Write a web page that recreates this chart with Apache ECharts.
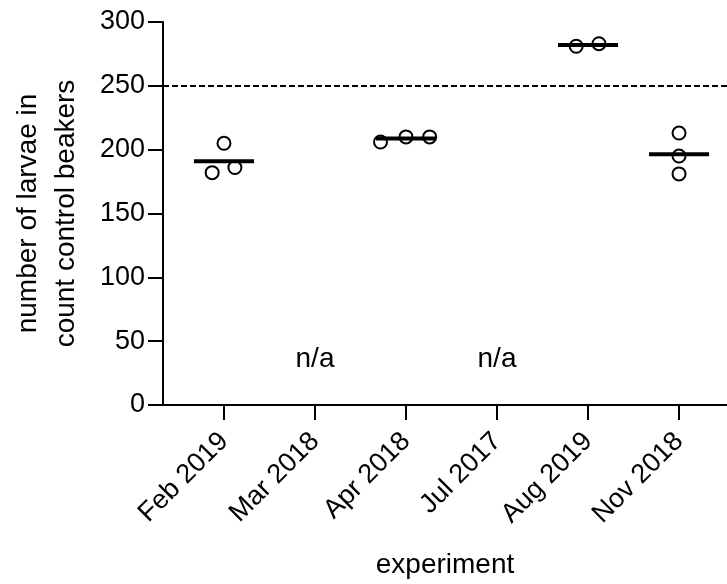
<!DOCTYPE html>
<html><head><meta charset="utf-8">
<script src="https://cdn.jsdelivr.net/npm/echarts@6/dist/echarts.min.js"></script>
<style>html,body{margin:0;padding:0;background:#fff}#c{width:727px;height:584px}</style>
</head><body><div id="c"></div>
<script>
var categories = ['Feb 2019','Mar 2018','Apr 2018','Jul 2017','Aug 2019','Nov 2018'];
// individual counts per experiment (null = n/a)
var feb2019 = [182, 205, 186];
var mar2018 = null;
var apr2018 = [206, 210, 210];
var jul2017 = null;
var aug2019 = [281, 283];
var nov2018 = [213, 195, 181];
var jitterFeb = [-0.13, 0, 0.12];
var jitterApr = [-0.28, 0, 0.26];
var jitterAug = [-0.13, 0.12];
var jitterNov = [0, 0, 0];
var referenceLine = 250;
var yTicks = [0, 50, 100, 150, 200, 250, 300];
var naLabel = 'n/a';
var naY = 36;

var groups = [feb2019, mar2018, apr2018, jul2017, aug2019, nov2018];
var jitters = [jitterFeb, null, jitterApr, null, jitterAug, jitterNov];

var points = [], means = [], naPts = [];
groups.forEach(function (g, i) {
  if (!g) { naPts.push([i, naY]); return; }
  var s = 0;
  g.forEach(function (v, k) { points.push([i + jitters[i][k], v]); s += v; });
  means.push([i, s / g.length]);
});

var font = '"Liberation Sans", Arial, sans-serif';
var chart = echarts.init(document.getElementById('c'));
chart.setOption({
  animation: false,
  grid: { left: 163, top: 22, right: 0, bottom: 179, containLabel: false, outerBoundsMode: 'none' },
  xAxis: {
    type: 'value', min: -0.67, max: 5.527, interval: 1,
    name: 'experiment', nameLocation: 'middle', nameGap: 146,
    nameTextStyle: { fontSize: 28, color: '#000', fontFamily: font },
    axisLine: { onZero: false, lineStyle: { color: '#000', width: 2 } },
    axisTick: { show: true, length: 15, lineStyle: { color: '#000', width: 2 },
      customValues: [0,1,2,3,4,5] },
    axisLabel: { rotate: 45, fontSize: 27, color: '#000', fontFamily: font, margin: 32,
      customValues: [0,1,2,3,4,5],
      formatter: function (v) { return categories[Math.round(v)] || ''; } },
    splitLine: { show: false }
  },
  yAxis: {
    type: 'value', min: 0, max: 300, interval: 50,
    name: 'number of larvae in\ncount control beakers', nameLocation: 'middle', nameGap: 78,
    nameTextStyle: { fontSize: 28, color: '#000', fontFamily: font, lineHeight: 38 },
    axisLine: { show: true, onZero: false, lineStyle: { color: '#000', width: 2 } },
    axisTick: { show: true, length: 15, lineStyle: { color: '#000', width: 2 } },
    axisLabel: { fontSize: 27, color: '#000', fontFamily: font, margin: 18,
      formatter: function (v) { return yTicks.indexOf(v) >= 0 ? String(v) : ''; } },
    splitLine: { show: false }
  },
  series: [
    {
      type: 'scatter', data: points, symbol: 'circle', symbolSize: 13,
      itemStyle: { color: '#fff', borderColor: '#000', borderWidth: 2, opacity: 1 },
      z: 3,
      markLine: {
        silent: true, symbol: 'none', label: { show: false },
        lineStyle: { color: '#000', type: [6, 3], width: 2, opacity: 1 },
        data: [{ yAxis: referenceLine }]
      }
    },
    {
      type: 'custom', data: means, z: 4,
      renderItem: function (params, api) {
        var x = api.value(0), y = api.value(1);
        var a = api.coord([x - 0.33, y]), b = api.coord([x + 0.33, y]);
        return { type: 'line', shape: { x1: a[0], y1: a[1], x2: b[0], y2: b[1] },
          style: { stroke: '#000', lineWidth: 4 } };
      }
    },
    {
      type: 'scatter', data: naPts, symbolSize: 0,
      itemStyle: { opacity: 1 },
      label: { show: true, position: 'inside', formatter: naLabel, fontSize: 28,
        color: '#000', opacity: 1, fontFamily: font }
    }
  ]
});
</script></body></html>
